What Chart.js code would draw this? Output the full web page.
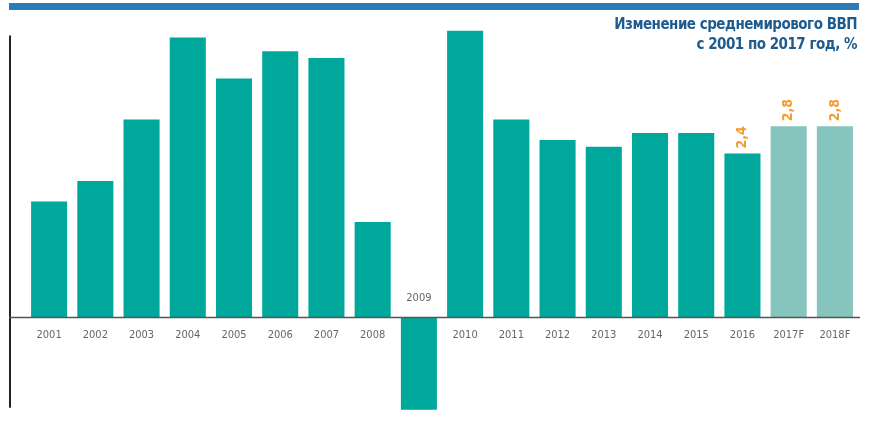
<!DOCTYPE html>
<html lang="ru">
<head>
    <meta charset="UTF-8">
    <title>Изменение среднемирового ВВП</title>
    <script src="https://cdn.jsdelivr.net/npm/chart.js"></script>
    <style>
        body { margin: 0; background: #fff; font-family: "DejaVu Sans Condensed", "Roboto", sans-serif; }
        #wrap { position: relative; width: 870px; height: 422px; }
        #topBar { position: absolute; left: 9px; top: 3px; width: 850px; height: 7px; background: #2b7bb9; }
        #title { position: absolute; right: 13px; top: 14px; text-align: right; color: #1e5c8f;
                 font-weight: bold; font-size: 15px; line-height: 20px; letter-spacing: -0.5px; }
        canvas { position: absolute; left: 0; top: 0; }
    </style>
</head>
<body>
<div id="wrap">
    <canvas id="c" width="870" height="422"></canvas>
    <div id="topBar"></div>
    <div id="title">Изменение среднемирового ВВП<br>с 2001 по 2017 год, %</div>
</div>
<script>
    // --- data ---
    const years = ['2001', '2002', '2003', '2004', '2005', '2006', '2007', '2008', '2009',
                   '2010', '2011', '2012', '2013', '2014', '2015', '2016', '2017F', '2018F'];
    const growth = [1.7, 2.0, 2.9, 4.1, 3.5, 3.9, 3.8, 1.4, -1.35,
                    4.2, 2.9, 2.6, 2.5, 2.7, 2.7, 2.4, 2.8, 2.8];
    const forecast = [false, false, false, false, false, false, false, false, false,
                      false, false, false, false, false, false, false, true, true];
    const shownValues = ['', '', '', '', '', '', '', '', '', '', '', '', '', '', '', '2,4', '2,8', '2,8'];

    const teal = '#00a89c';
    const tealLight = '#86c4be';

    // axis lines, category labels and value labels
    const decor = {
        id: 'decor',
        afterDatasetsDraw(chart) {
            const ctx = chart.ctx;
            const x = chart.scales.x, y = chart.scales.y;
            const area = chart.chartArea;
            const zero = y.getPixelForValue(0);
            ctx.save();
            // left axis line
            ctx.strokeStyle = '#222';
            ctx.lineWidth = 2;
            ctx.beginPath();
            ctx.moveTo(area.left - 16, y.getPixelForValue(4.13));
            ctx.lineTo(area.left - 16, y.getPixelForValue(-1.32));
            ctx.stroke();
            // zero line
            ctx.strokeStyle = '#555';
            ctx.lineWidth = 1.5;
            ctx.beginPath();
            ctx.moveTo(area.left - 17, zero);
            ctx.lineTo(area.right + 2, zero);
            ctx.stroke();
            // category labels
            ctx.fillStyle = '#666';
            ctx.font = '11px "DejaVu Sans Condensed", sans-serif';
            ctx.textAlign = 'center';
            ctx.textBaseline = 'middle';
            years.forEach((lab, i) => {
                const px = x.getPixelForValue(i);
                const py = growth[i] < 0 ? zero - 19 : zero + 18;
                ctx.fillText(lab, px, py);
            });
            // value labels, rotated
            ctx.fillStyle = '#f39c2f';
            ctx.font = 'bold 14px "DejaVu Sans Condensed", sans-serif';
            ctx.textAlign = 'left';
            shownValues.forEach((v, i) => {
                if (!v) return;
                const px = x.getPixelForValue(i);
                const py = y.getPixelForValue(growth[i]) - 5;
                ctx.save();
                ctx.translate(px, py);
                ctx.rotate(-Math.PI / 2);
                ctx.fillText(v, 0, 0);
                ctx.restore();
            });
            ctx.restore();
        }
    };

    new Chart(document.getElementById('c').getContext('2d'), {
        type: 'bar',
        data: {
            labels: years,
            datasets: [{
                data: growth,
                backgroundColor: forecast.map(f => f ? tealLight : teal),
                borderWidth: 0,
                barPercentage: 0.78,
                categoryPercentage: 1.0
            }]
        },
        options: {
            responsive: false,
            animation: false,
            layout: { padding: { left: 26, right: 12, top: 17, bottom: 2 } },
            plugins: { legend: { display: false }, tooltip: { enabled: false } },
            scales: {
                x: { display: false },
                y: { display: false, min: -1.5, max: 4.4 }
            }
        },
        plugins: [decor]
    });
</script>
</body>
</html>
